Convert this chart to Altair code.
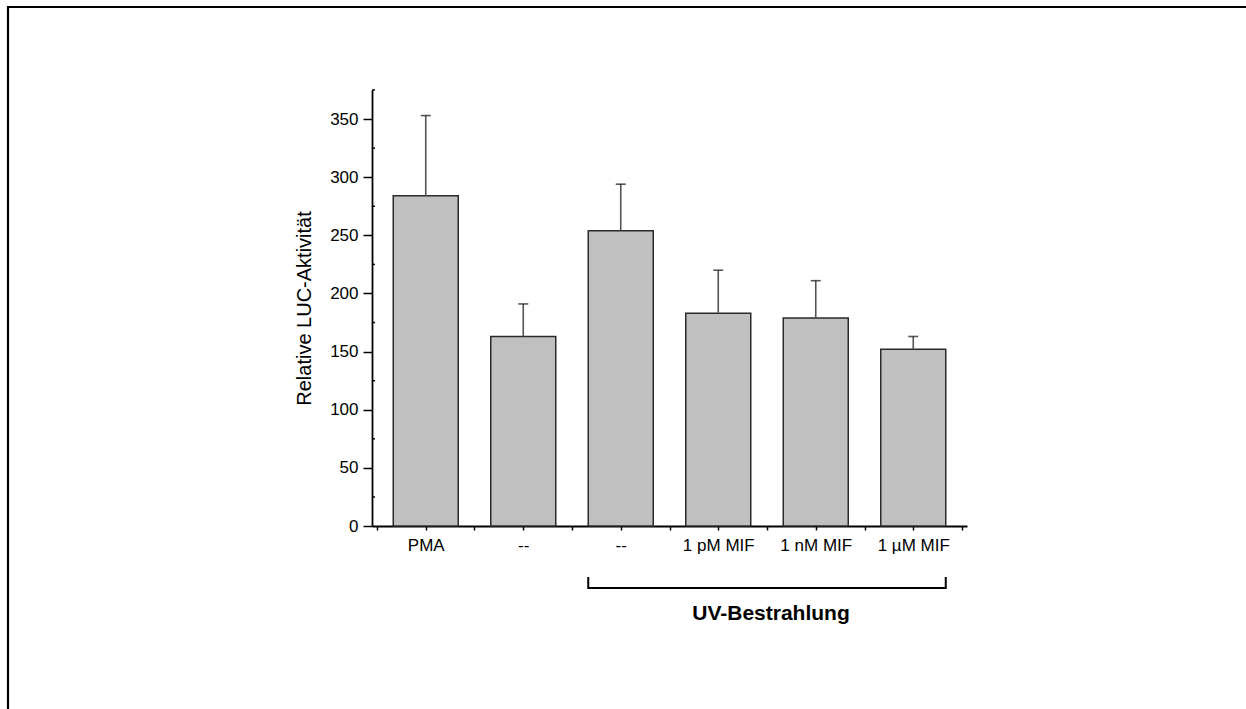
import json
import altair as alt
import pandas as pd

# ---- data ----
categories = ["PMA", "--", "--", "1 pM MIF", "1 nM MIF", "1 µM MIF"]
positions = [0.5, 1.5, 2.5, 3.5, 4.5, 5.5]
values = [284, 163, 254, 183, 179, 152]
err_tops = [353, 191, 294, 220, 211, 163]
y_major = [0, 50, 100, 150, 200, 250, 300, 350]
y_minor = [25, 75, 125, 175, 225, 275, 325, 375]
x_ticks = [0, 0.5, 1, 1.5, 2, 2.5, 3, 3.5, 4, 4.5, 5, 5.5, 6]
bracket_label = "UV-Bestrahlung"
bracket_from = 2.5
bracket_to = 5.5

FONT = "Liberation Sans"
W, H = 595, 436
PAD_L, PAD_T = 372, 90

df = pd.DataFrame({"pos": positions, "cat": categories, "val": values, "top": err_tops})
minor_df = pd.DataFrame({"v": y_minor})
br_df = pd.DataFrame({"a": [bracket_from], "b": [bracket_to], "mid": [(bracket_from + bracket_to) / 2],
                      "label": [bracket_label]})

names_js = json.dumps(categories, ensure_ascii=False)

x_scale = alt.Scale(domain=[0, 6], nice=False, zero=False)
y_scale = alt.Scale(domain=[0, 375], nice=False)

x_axis = alt.Axis(
    values=x_ticks, title=None, grid=False,
    labelExpr=f"(datum.value % 1 == 0.5) ? {names_js}[floor(datum.value)] : ''",
    labelFont=FONT, labelFontSize=17, labelColor="black", labelPadding=7,
    tickSize=4, tickColor="black", tickWidth=1.5,
    domainColor="black", domainWidth=1.8, labelAngle=0,
)
y_axis = alt.Axis(
    values=y_major, title="Relative LUC-Aktivität", grid=False,
    labelFont=FONT, labelFontSize=17, labelColor="black", labelPadding=5,
    tickSize=9, tickColor="black", tickWidth=1.5,
    domainColor="black", domainWidth=1.8,
    titleFont=FONT, titleFontSize=20, titleFontWeight="normal", titleColor="black",
    titleX=-68, titleY=H / 2, titleAngle=270, titleBaseline="middle", titleAlign="center",
)

base = alt.Chart(df)

bars = base.mark_bar(width=65, fill="#c0c0c0", stroke="#2a2a2a", strokeWidth=1.5).encode(
    x=alt.X("pos:Q", scale=x_scale, axis=x_axis),
    y=alt.Y("val:Q", scale=y_scale, axis=y_axis),
)
err = base.mark_rule(color="#555555", strokeWidth=1.6).encode(
    x="pos:Q", y="val:Q", y2="top:Q"
)
caps = base.mark_tick(orient="horizontal", size=10, thickness=1.6, color="#111111").encode(
    x="pos:Q", y="top:Q"
)
minor = alt.Chart(minor_df).mark_rule(color="black", strokeWidth=1.5).encode(
    y="v:Q", x=alt.value(0), x2=alt.value(3)
)

br = alt.Chart(br_df)
br_h = br.mark_rule(color="black", strokeWidth=2, xOffset=-32.5, x2Offset=32.5).encode(
    x="a:Q", x2="b:Q", y=alt.value(498)
)
br_l = br.mark_rule(color="black", strokeWidth=2, xOffset=-32.5).encode(
    x="a:Q", y=alt.value(487), y2=alt.value(499)
)
br_r = br.mark_rule(color="black", strokeWidth=2, xOffset=32.5).encode(
    x="b:Q", y=alt.value(487), y2=alt.value(499)
)
br_t = br.mark_text(font=FONT, fontSize=21, fontWeight="bold", color="black",
                    baseline="alphabetic", align="center", dx=4).encode(
    x="mid:Q", y=alt.value(530), text="label:N"
)

# outer frame (partially cropped at right/bottom in the reference)
frame_top = alt.Chart(br_df).mark_rule(color="black", strokeWidth=2.2).encode(
    x=alt.value(8 - PAD_L), x2=alt.value(1246 - PAD_L + 10), y=alt.value(7 - PAD_T)
)
frame_left = alt.Chart(br_df).mark_rule(color="black", strokeWidth=2.2).encode(
    x=alt.value(8 - PAD_L), y=alt.value(6 - PAD_T), y2=alt.value(709 - PAD_T + 10)
)

chart = alt.layer(bars, err, caps, minor, br_h, br_l, br_r, br_t, frame_top, frame_left).properties(
    width=W, height=H,
    autosize=alt.AutoSizeParams(type="none"),
    padding={"left": PAD_L, "top": PAD_T, "right": 1246 - PAD_L - W, "bottom": 709 - PAD_T - H},
    background="white",
).configure_view(strokeWidth=0)

chart.save("out.html", embed_options={"renderer": "svg", "actions": False})
